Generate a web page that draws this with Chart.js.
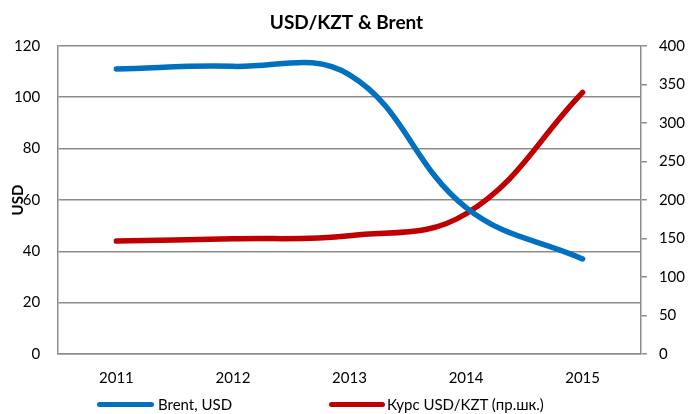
<!DOCTYPE html>
<html>
<head>
<meta charset="utf-8">
<script src="https://cdn.jsdelivr.net/npm/chart.js@4.4.1/dist/chart.umd.min.js"></script>
<style>
  html, body { margin: 0; padding: 0; background: #fff; }
  #wrap { position: relative; width: 688px; height: 414px; }
  #legend { position: absolute; left: 0; top: 394px; width: 688px; height: 20px;
            font-family: Lato, "Open Sans", sans-serif; font-size: 15px; color: #000; }
  .item { position: absolute; top: 0; height: 20px; line-height: 20px; white-space: nowrap; }
  .swatch { position: absolute; top: 8px; height: 5px; border-radius: 3px; }
</style>
</head>
<body>
<div id="wrap">
  <canvas id="chart" width="688" height="414"></canvas>
  <div id="legend"></div>
</div>
<script>
const years = ['2011', '2012', '2013', '2014', '2015'];
const brent = [111, 112, 108.7, 57, 37];
const kzt = [146.5, 149.5, 153.6, 182, 339.5];
const seriesNames = ['Brent, USD', 'Курс USD/KZT (пр.шк.)'];
const seriesColors = ['#0070C0', '#C00000'];

const font = { family: 'Lato, "Open Sans", sans-serif', size: 15 };
const gridGray = '#8c8c8c';

// rotated axis title that sits over the tick labels, like the original
const usdLabel = {
  id: 'usdLabel',
  afterDraw(chart) {
    const ctx = chart.ctx;
    ctx.save();
    ctx.translate(18, 200);
    ctx.rotate(-Math.PI / 2);
    ctx.font = 'bold 15px Lato, "Open Sans", sans-serif';
    ctx.fillStyle = '#000';
    ctx.textAlign = 'center';
    ctx.textBaseline = 'middle';
    ctx.fillText('USD', 0, 0);
    ctx.restore();
  }
};

const ctx = document.getElementById('chart').getContext('2d');
new Chart(ctx, {
  type: 'line',
  data: {
    labels: years,
    datasets: [
      {
        label: seriesNames[0],
        data: brent,
        yAxisID: 'y',
        borderColor: seriesColors[0],
        borderWidth: 5.5,
        borderCapStyle: 'round',
        pointRadius: 0,
        tension: 0.4,
        fill: false,
      },
      {
        label: seriesNames[1],
        data: kzt,
        yAxisID: 'y1',
        borderColor: seriesColors[1],
        borderWidth: 5.5,
        borderCapStyle: 'round',
        pointRadius: 0,
        tension: 0.4,
        fill: false,
      },
    ],
  },
  options: {
    responsive: false,
    animation: false,
    // scales reserve their tick padding twice, hence the negative sides
    layout: { autoPadding: false, padding: { left: -4, right: -9, top: 2, bottom: 12 } },
    plugins: {
      legend: { display: false },
      tooltip: { enabled: false },
      title: {
        display: true,
        text: 'USD/KZT & Brent',
        color: '#000',
        font: { family: font.family, size: 19, weight: 'bold' },
        padding: { top: 9, bottom: 12 },
      },
    },
    scales: {
      x: {
        type: 'category',
        offset: true,
        grid: { display: false, drawTicks: false },
        border: { display: true, color: gridGray, width: 1.5 },
        ticks: { color: '#000', font, padding: 15, maxRotation: 0 },
      },
      y: {
        position: 'left',
        min: 0,
        max: 120,
        ticks: { stepSize: 20, color: '#000', font, padding: 18 },
        grid: { color: gridGray, lineWidth: 1.5, drawTicks: false },
        border: { display: true, color: gridGray, width: 1.5 },
      },
      y1: {
        position: 'right',
        min: 0,
        max: 400,
        ticks: { stepSize: 50, color: '#000', font, padding: 12 },
        grid: { drawOnChartArea: false, drawTicks: true, tickLength: 6, color: gridGray, lineWidth: 1.5 },
        border: { display: true, color: gridGray, width: 1.5 },
      },
    },
  },
  plugins: [usdLabel],
});

// legend below the plot
const legendPos = [{ line: 97, w: 57, text: 158 }, { line: 329, w: 56, text: 387 }];
const legend = document.getElementById('legend');
seriesNames.forEach((name, i) => {
  const sw = document.createElement('div');
  sw.className = 'swatch';
  sw.style.left = legendPos[i].line + 'px';
  sw.style.width = legendPos[i].w + 'px';
  sw.style.background = seriesColors[i];
  legend.appendChild(sw);
  const t = document.createElement('div');
  t.className = 'item';
  t.style.left = legendPos[i].text + 'px';
  t.textContent = name;
  legend.appendChild(t);
});
</script>
</body>
</html>
